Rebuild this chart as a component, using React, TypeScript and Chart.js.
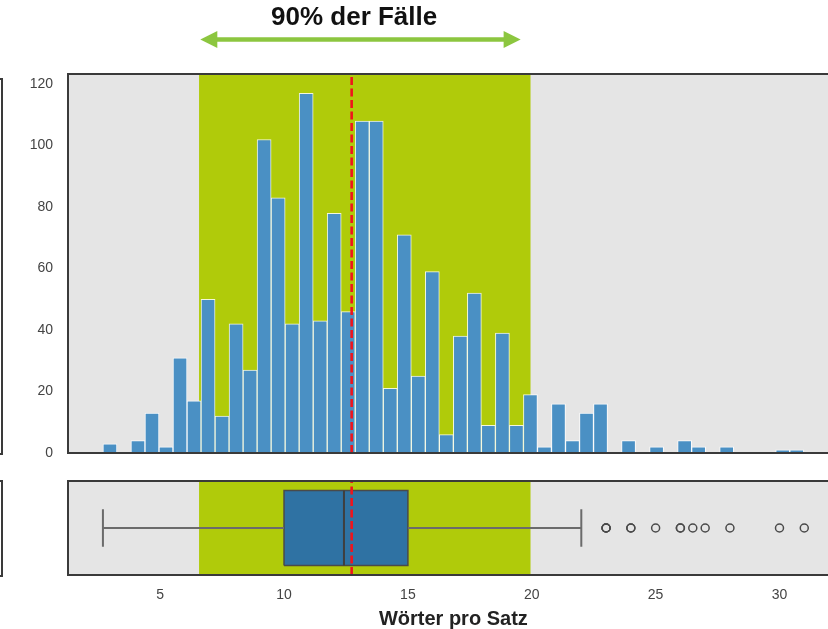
import React, { useEffect, useRef } from 'react';
import { Chart, registerables } from 'chart.js';

Chart.register(...registerables);

// ---- data ----
const binStart = 2.69;
const binWidth = 0.5658;
const binCounts = [
  3, 0, 4, 13, 2, 31, 17, 50, 12, 42,
  27, 102, 83, 42, 117, 43, 78, 46, 108, 108,
  21, 71, 25, 59, 6, 38, 52, 9, 39, 9,
  19, 2, 16, 4, 13, 16, 0, 4, 0, 2,
  0, 4, 2, 0, 2, 0, 0, 0, 1, 1,
];
const whiskerLow = 2.69;
const quartile1 = 10;
const medianValue = 12.42;
const quartile3 = 15;
const whiskerHigh = 22;
const outliers = [23, 23, 23, 24, 24, 25, 26, 26, 26.5, 27, 28, 30, 31];
const meanValue = 12.73;
const band90 = [6.57, 19.95];
const arrowRange = [6.62, 19.55];
const arrowLabel = '90% der Fälle';
const arrowLabelCenter = 12.83;
const xTitle = 'Wörter pro Satz';
const xLimits = [1.28, 32.39];
const yLimits = [0, 123.3];

const FONT = "'Liberation Sans', Arial, Helvetica, sans-serif";
const GREY_BG = '#e5e5e5';
const GREEN_BAND = '#b0cb0a';
const RED = '#f0141c';
const FRAME = '#3a3a3a';

const panelPlugin = {
  id: 'panelDecor',
  beforeDatasetsDraw(chart: any) {
    const { ctx, chartArea: a, scales } = chart;
    const x = scales.x;
    ctx.save();
    ctx.fillStyle = GREY_BG;
    ctx.fillRect(a.left, a.top, a.right - a.left, a.bottom - a.top);
    const x0 = x.getPixelForValue(band90[0]);
    const x1 = x.getPixelForValue(band90[1]);
    ctx.fillStyle = GREEN_BAND;
    ctx.fillRect(x0, a.top, x1 - x0, a.bottom - a.top);
    ctx.restore();
  },
  afterDraw(chart: any) {
    const { ctx, chartArea: a } = chart;
    ctx.save();
    ctx.strokeStyle = FRAME;
    ctx.lineWidth = 2;
    ctx.strokeRect(a.left, a.top, a.right - a.left, a.bottom - a.top);
    ctx.restore();
  },
};

const arrowPlugin = {
  id: 'arrowNote',
  afterDraw(chart: any) {
    const { ctx, scales } = chart;
    const x = scales.x;
    const xa = x.getPixelForValue(arrowRange[0]);
    const xb = x.getPixelForValue(arrowRange[1]);
    const y = 39.5;
    const headL = 17;
    const headH = 8.5;
    ctx.save();
    ctx.fillStyle = '#8cc63f';
    ctx.strokeStyle = '#8cc63f';
    ctx.lineWidth = 4.5;
    ctx.beginPath();
    ctx.moveTo(xa + headL - 2, y);
    ctx.lineTo(xb - headL + 2, y);
    ctx.stroke();
    ctx.beginPath();
    ctx.moveTo(xa, y);
    ctx.lineTo(xa + headL, y - headH);
    ctx.lineTo(xa + headL, y + headH);
    ctx.closePath();
    ctx.fill();
    ctx.beginPath();
    ctx.moveTo(xb, y);
    ctx.lineTo(xb - headL, y - headH);
    ctx.lineTo(xb - headL, y + headH);
    ctx.closePath();
    ctx.fill();
    ctx.fillStyle = '#111111';
    ctx.font = `bold 26px ${FONT}`;
    ctx.textAlign = 'center';
    ctx.textBaseline = 'middle';
    ctx.fillText(arrowLabel, x.getPixelForValue(arrowLabelCenter), 18);
    ctx.restore();
  },
};

export default function App() {
  const histRef = useRef<HTMLCanvasElement>(null);
  const boxRef = useRef<HTMLCanvasElement>(null);

  useEffect(() => {
    const histData = binCounts.map((c, i) => ({ x: binStart + (i + 0.5) * binWidth, y: c }));
    const hist = new Chart(histRef.current as HTMLCanvasElement, {
      type: 'bar',
      data: {
        datasets: [
          {
            type: 'line',
            data: [
              { x: meanValue, y: yLimits[0] },
              { x: meanValue, y: yLimits[1] },
            ],
            borderColor: RED,
            borderWidth: 2.6,
            borderDash: [8, 3.5],
            pointRadius: 0,
            fill: false,
            order: 0,
          } as any,
          {
            type: 'bar',
            data: histData,
            backgroundColor: '#4a90c4',
            borderColor: 'rgba(255,255,255,0.85)',
            borderWidth: 1,
            barPercentage: 1,
            categoryPercentage: 1,
            order: 1,
          } as any,
        ],
      },
      options: {
        responsive: false,
        animation: false,
        devicePixelRatio: 1,
        layout: { padding: { left: 0, top: 74, right: 9.3, bottom: 12 } },
        plugins: { legend: { display: false }, tooltip: { enabled: false } },
        scales: {
          x: {
            type: 'linear',
            min: xLimits[0],
            max: xLimits[1],
            offset: false,
            display: false,
          },
          y: {
            type: 'linear',
            min: yLimits[0],
            max: yLimits[1],
            grid: { display: false, drawTicks: false },
            border: { display: false },
            ticks: {
              stepSize: 20,
              includeBounds: false,
              padding: 15,
              color: '#444444',
              font: { family: FONT, size: 14 },
            },
            afterFit: (s: any) => {
              s.width = 68;
              s.paddingTop = 0;
              s.paddingBottom = 0;
            },
          },
        },
      } as any,
      plugins: [panelPlugin, arrowPlugin],
    });

    const rect = [
      { x: quartile1, y: -0.4 },
      { x: quartile3, y: -0.4 },
      { x: quartile3, y: 0.4 },
      { x: quartile1, y: 0.4 },
      { x: quartile1, y: -0.4 },
    ];
    const lineDs = (data: any[], color: string, width: number, order: number, extra: any = {}) => ({
      data,
      showLine: true,
      borderColor: color,
      borderWidth: width,
      pointRadius: 0,
      fill: false,
      order,
      ...extra,
    });
    const whiskerColor = '#6b6b6b';
    const box = new Chart(boxRef.current as HTMLCanvasElement, {
      type: 'scatter',
      data: {
        datasets: [
          lineDs([{ x: meanValue, y: -0.5 }, { x: meanValue, y: 0.5 }], RED, 2.6, 0, { borderDash: [8, 3.5] }),
          lineDs([{ x: medianValue, y: -0.4 }, { x: medianValue, y: 0.4 }], '#3f3f3f', 2, 1),
          {
            data: outliers.map((v) => ({ x: v, y: 0 })),
            pointRadius: 4,
            pointBorderWidth: 1.5,
            borderColor: '#4a4a4a',
            pointBorderColor: '#4a4a4a',
            backgroundColor: 'rgba(0,0,0,0)',
            pointBackgroundColor: 'rgba(0,0,0,0)',
            showLine: false,
            order: 1,
          },
          lineDs([{ x: whiskerLow, y: 0 }, { x: quartile1, y: 0 }], whiskerColor, 2, 2),
          lineDs([{ x: quartile3, y: 0 }, { x: whiskerHigh, y: 0 }], whiskerColor, 2, 2),
          lineDs([{ x: whiskerLow, y: -0.2 }, { x: whiskerLow, y: 0.2 }], whiskerColor, 2, 2),
          lineDs([{ x: whiskerHigh, y: -0.2 }, { x: whiskerHigh, y: 0.2 }], whiskerColor, 2, 2),
          lineDs(rect, '#4a4a4a', 1.5, 3, { fill: 'shape', backgroundColor: '#2f72a3' }),
        ] as any,
      },
      options: {
        responsive: false,
        animation: false,
        devicePixelRatio: 1,
        layout: { padding: { left: 68, top: 11, right: 9.3, bottom: 0 } },
        plugins: { legend: { display: false }, tooltip: { enabled: false } },
        scales: {
          x: {
            type: 'linear',
            min: xLimits[0],
            max: xLimits[1],
            grid: { display: false, drawTicks: false },
            border: { display: false },
            ticks: {
              stepSize: 5,
              includeBounds: false,
              padding: 12,
              color: '#444444',
              font: { family: FONT, size: 14 },
            },
            title: {
              display: true,
              text: xTitle,
              color: '#222222',
              font: { family: FONT, size: 20, weight: 'bold', lineHeight: 1 },
              padding: { top: 0, bottom: 0 },
            },
            afterFit: (s: any) => {
              s.height = 54;
            },
          },
          y: { type: 'linear', min: -0.5, max: 0.5, display: false },
        },
      } as any,
      plugins: [panelPlugin],
    });

    return () => {
      hist.destroy();
      box.destroy();
    };
  }, []);

  return (
    <div
      style={{
        position: 'fixed',
        left: 0,
        top: 0,
        width: 828,
        height: 629,
        overflow: 'hidden',
        background: '#ffffff',
      }}
    >
      <div
        style={{
          position: 'absolute',
          left: -20,
          top: 78,
          width: 23,
          height: 377,
          border: `2px solid ${FRAME}`,
          boxSizing: 'border-box',
        }}
      />
      <div
        style={{
          position: 'absolute',
          left: -20,
          top: 480,
          width: 23,
          height: 97,
          border: `2px solid ${FRAME}`,
          boxSizing: 'border-box',
        }}
      />
      <canvas
        ref={histRef}
        width={848}
        height={465}
        style={{ position: 'absolute', left: 0, top: 0, width: 848, height: 465 }}
      />
      <canvas
        ref={boxRef}
        width={848}
        height={159}
        style={{ position: 'absolute', left: 0, top: 470, width: 848, height: 159 }}
      />
    </div>
  );
}
